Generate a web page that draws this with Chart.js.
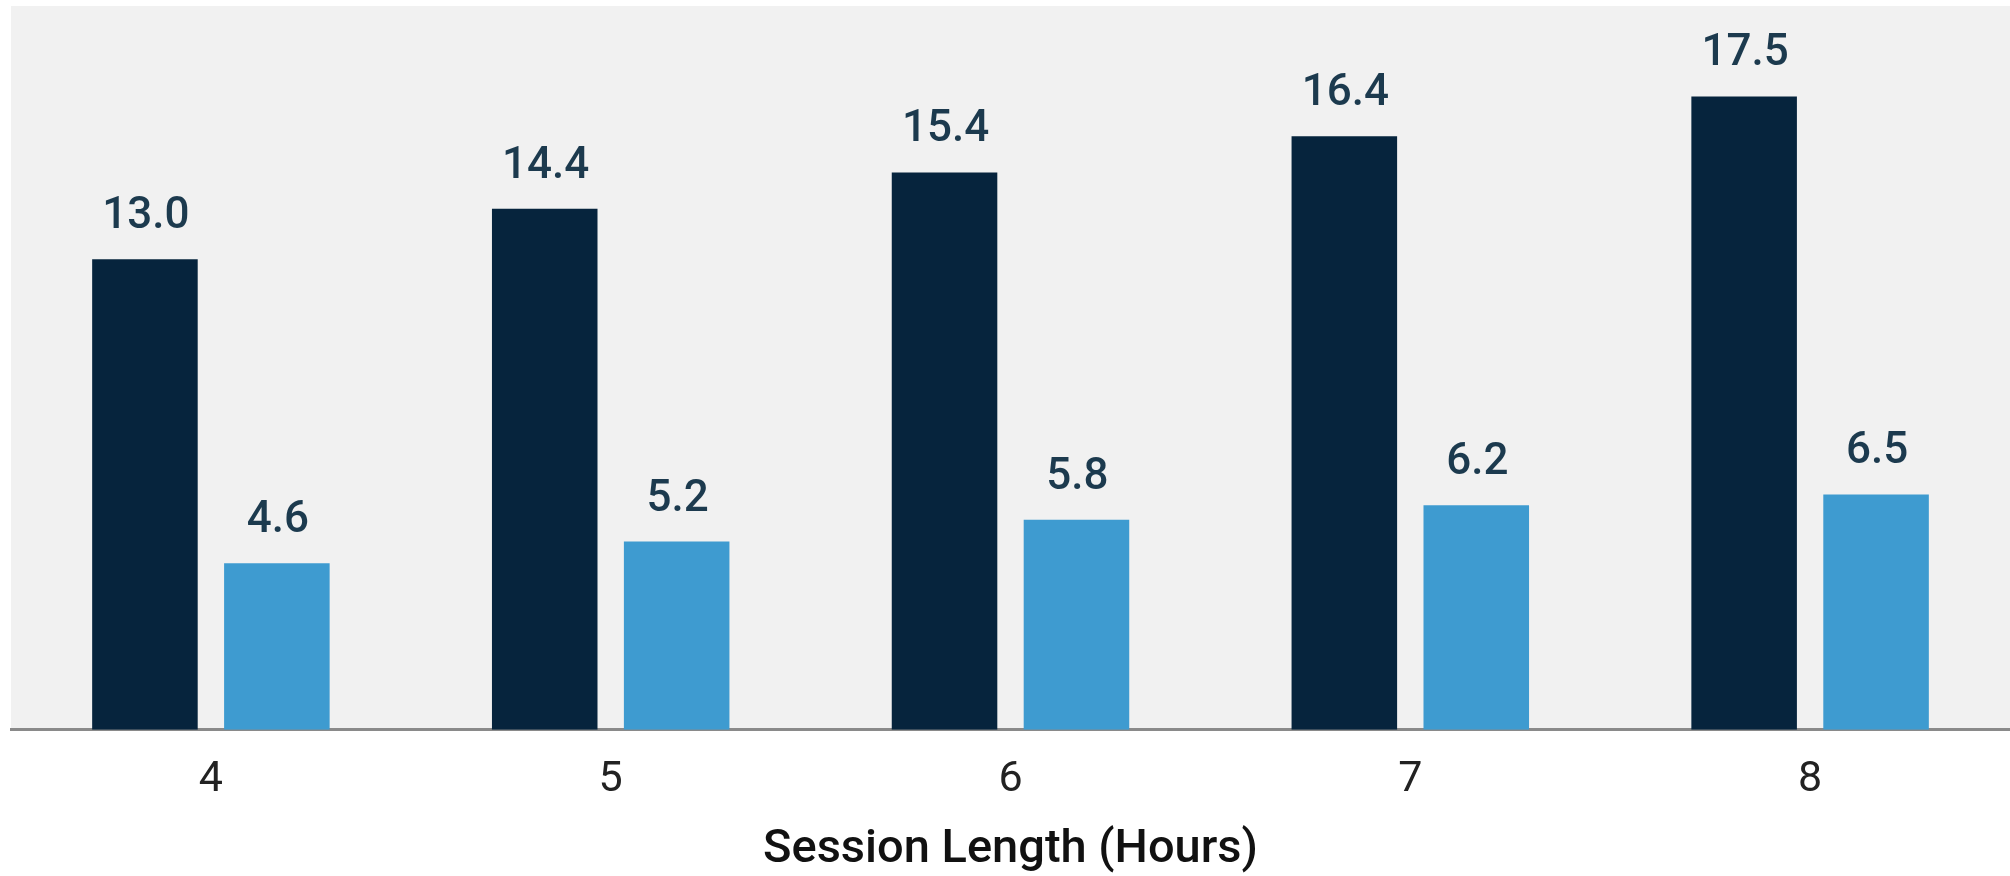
<!DOCTYPE html>
<html>
<head>
<meta charset="utf-8">
<script src="https://cdn.jsdelivr.net/npm/chart.js@4.4.1/dist/chart.umd.min.js"></script>
<style>
  html, body { margin: 0; padding: 0; background: #ffffff; }
  #wrap { width: 2010px; height: 876px; }
</style>
</head>
<body>
<div id="wrap"><canvas id="chart" width="2010" height="876"></canvas></div>
<script>
// Session length categories (hours)
const sessionHours = ['4', '5', '6', '7', '8'];
// First series (dark bars)
const seriesDark = [13.0, 14.4, 15.4, 16.4, 17.5];
// Second series (light bars)
const seriesLight = [4.6, 5.2, 5.8, 6.2, 6.5];

const axisTitle = 'Session Length (Hours)';

// Fills the plotting area with a light grey panel
const panelBackground = {
  id: 'panelBackground',
  beforeDraw(chart) {
    const { ctx, chartArea } = chart;
    ctx.save();
    ctx.fillStyle = '#f1f1f1';
    ctx.fillRect(chartArea.left, chartArea.top, chartArea.right - chartArea.left, chartArea.bottom - chartArea.top);
    ctx.restore();
  }
};

// Writes each bar's value above it
const valueLabels = {
  id: 'valueLabels',
  afterDatasetsDraw(chart) {
    const { ctx } = chart;
    ctx.save();
    ctx.font = '500 44px Roboto';
    ctx.fillStyle = '#1c3a4e';
    ctx.textAlign = 'center';
    ctx.textBaseline = 'alphabetic';
    chart.data.datasets.forEach((ds, di) => {
      const meta = chart.getDatasetMeta(di);
      meta.data.forEach((bar, i) => {
        ctx.fillText(ds.data[i].toFixed(1), bar.x + 1, bar.y - 31);
      });
    });
    ctx.restore();
  }
};

new Chart(document.getElementById('chart'), {
  type: 'bar',
  data: {
    labels: sessionHours,
    datasets: [
      { data: seriesDark, backgroundColor: '#06243d' },
      { data: seriesLight, backgroundColor: '#3e9bd0' }
    ]
  },
  options: {
    responsive: false,
    animation: false,
    devicePixelRatio: 1,
    categoryPercentage: 0.66,
    barPercentage: 0.8,
    layout: { padding: { left: 11, top: 6, right: 0, bottom: 0 } },
    plugins: {
      legend: { display: false },
      tooltip: { enabled: false }
    },
    scales: {
      y: {
        display: false,
        min: 0,
        max: 20
      },
      x: {
        grid: { display: false, drawTicks: false },
        border: { display: true, color: '#8a8a8a', width: 3 },
        ticks: {
          color: '#222222',
          font: { family: 'Roboto', size: 43, weight: '400', lineHeight: 1.2 },
          padding: 25
        },
        title: {
          display: true,
          text: axisTitle,
          color: '#111111',
          font: { family: 'Roboto', size: 47, weight: '500', lineHeight: 1.1 },
          padding: { top: -7, bottom: 0 }
        }
      }
    }
  },
  plugins: [panelBackground, valueLabels]
});
</script>
</body>
</html>
